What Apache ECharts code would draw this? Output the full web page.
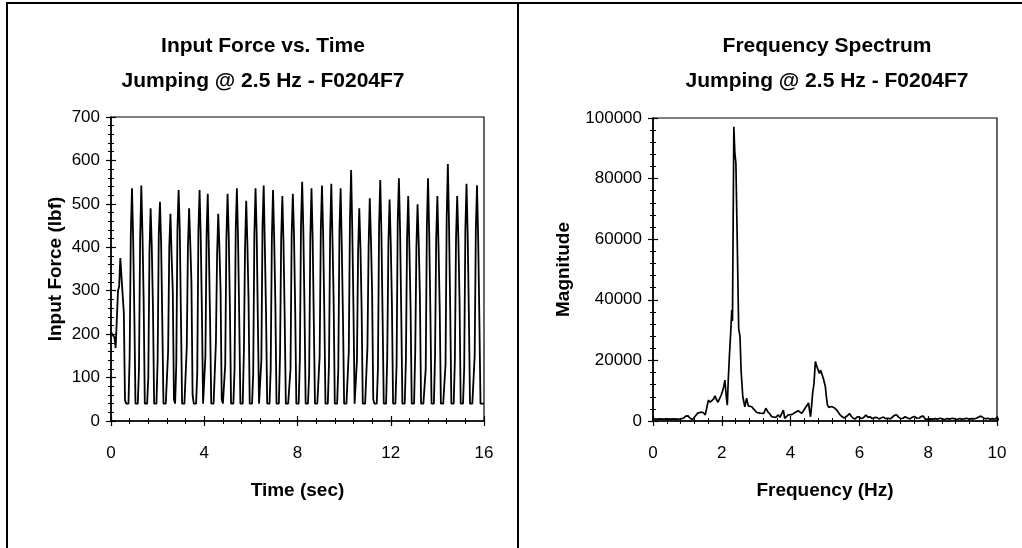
<!DOCTYPE html>
<html>
<head>
<meta charset="utf-8">
<script src="https://cdn.jsdelivr.net/npm/echarts@6/dist/echarts.min.js"></script>
<style>
  html, body { margin: 0; padding: 0; background: #fff; }
  #chart { width: 1022px; height: 548px; }
</style>
</head>
<body>
<div id="chart"></div>
<script>
// ---------- DATA ----------
const leftTitle = ['Input Force vs. Time', 'Jumping @ 2.5 Hz - F0204F7'];
const rightTitle = ['Frequency Spectrum', 'Jumping @ 2.5 Hz - F0204F7'];
const timeAxisName = 'Time (sec)';
const forceAxisName = 'Input Force (lbf)';
const freqAxisName = 'Frequency (Hz)';
const magAxisName = 'Magnitude';

// sampling interval of the force record (s)
const timeStepSec = 0.05;
// force samples, lbf (index i -> time i * timeStepSec), 0..16 s
const forceLbf = [
  205, 200, 197, 192, 168, 170, 300, 310, 375, 375,
  290, 250, 48, 40, 40, 40, 150, 430, 536, 420,
  250, 40, 40, 40, 120, 420, 542, 430, 280, 40,
  40, 40, 100, 390, 490, 400, 260, 40, 40, 40,
  140, 430, 505, 410, 230, 40, 40, 40, 40, 160,
  400, 477, 380, 300, 50, 40, 130, 440, 532, 440,
  240, 40, 40, 40, 40, 170, 400, 490, 410, 320,
  60, 40, 40, 40, 110, 440, 532, 420, 250, 40,
  40, 150, 430, 523, 390, 230, 40, 40, 40, 40,
  180, 380, 477, 400, 300, 50, 40, 40, 130, 420,
  523, 430, 260, 40, 40, 40, 120, 440, 536, 420,
  240, 40, 40, 40, 160, 400, 507, 410, 280, 40,
  40, 40, 110, 430, 536, 430, 230, 40, 40, 140,
  450, 542, 400, 250, 40, 40, 40, 120, 420, 532,
  420, 270, 40, 40, 40, 150, 420, 518, 410, 240,
  40, 40, 40, 40, 120, 430, 523, 430, 260, 40,
  40, 40, 140, 450, 551, 440, 260, 40, 40, 40,
  110, 420, 536, 420, 230, 40, 40, 40, 40, 150,
  440, 542, 430, 250, 40, 40, 40, 130, 430, 546,
  420, 280, 40, 40, 40, 120, 440, 536, 400, 240,
  40, 40, 40, 40, 160, 460, 578, 440, 260, 40,
  40, 140, 390, 490, 400, 260, 40, 40, 40, 40,
  170, 400, 513, 420, 300, 50, 40, 40, 40, 120,
  450, 555, 430, 240, 40, 40, 40, 150, 410, 510,
  410, 270, 40, 40, 40, 130, 460, 559, 440, 250,
  40, 40, 40, 140, 420, 518, 400, 260, 40, 40,
  40, 160, 400, 499, 410, 290, 40, 40, 40, 40,
  120, 450, 559, 430, 250, 40, 40, 40, 150, 420,
  518, 400, 260, 40, 40, 40, 40, 130, 470, 592,
  450, 260, 40, 40, 40, 140, 420, 518, 420, 280,
  40, 40, 40, 120, 440, 546, 430, 250, 40, 40,
  40, 40, 150, 440, 543, 420, 240, 40, 40, 40, 40
];

// spectrum vertices: frequency (Hz) and magnitude
const spectrumFreqHz = [
  0.00, 0.10, 0.20, 0.30, 0.40, 0.50, 0.60, 0.70, 0.80, 0.88,
  0.95, 1.02, 1.08, 1.15, 1.22, 1.30, 1.38, 1.46, 1.52, 1.57,
  1.61, 1.66, 1.70, 1.76, 1.80, 1.85, 1.89, 1.94, 1.98, 2.02,
  2.06, 2.09, 2.13, 2.16, 2.19, 2.22, 2.26, 2.29, 2.31, 2.33,
  2.35, 2.38, 2.41, 2.45, 2.49, 2.53, 2.56, 2.61, 2.67, 2.72,
  2.77, 2.82, 2.87, 2.92, 2.97, 3.02, 3.06, 3.11, 3.16, 3.22,
  3.28, 3.34, 3.40, 3.45, 3.50, 3.57, 3.64, 3.69, 3.74, 3.79,
  3.83, 3.88, 3.93, 3.98, 4.03, 4.08, 4.13, 4.18, 4.22, 4.27,
  4.32, 4.37, 4.42, 4.47, 4.52, 4.55, 4.58, 4.61, 4.64, 4.68,
  4.72, 4.75, 4.78, 4.81, 4.84, 4.87, 4.90, 4.95, 5.01, 5.04,
  5.07, 5.11, 5.15, 5.19, 5.22, 5.28, 5.34, 5.39, 5.44, 5.50,
  5.56, 5.61, 5.66, 5.71, 5.76, 5.82, 5.88, 5.94, 6.00, 6.06,
  6.12, 6.19, 6.25, 6.31, 6.37, 6.44, 6.50, 6.57, 6.63, 6.70,
  6.76, 6.83, 6.90, 6.96, 7.02, 7.08, 7.14, 7.20, 7.27, 7.33,
  7.40, 7.47, 7.53, 7.60, 7.67, 7.74, 7.80, 7.86, 7.92, 7.98,
  8.05, 8.12, 8.20, 8.27, 8.34, 8.41, 8.48, 8.55, 8.62, 8.70,
  8.77, 8.84, 8.91, 8.98, 9.05, 9.12, 9.19, 9.26, 9.33, 9.40,
  9.47, 9.53, 9.59, 9.66, 9.73, 9.80, 9.87, 9.93, 10.00, 10.05,
  10.12, 10.18, 10.25, 10.30
];
const spectrumMagnitude = [
  700, 600, 700, 600, 700, 600, 700, 600, 700, 900,
  1600, 1700, 900, 500, 1500, 2600, 2900, 2800, 2000, 2500,
  6900, 6200, 5900, 7200, 8300, 7000, 6200, 6000, 8500, 9800,
  11500, 13500, 8000, 5200, 14000, 21200, 29500, 36600, 33000, 33500,
  97100, 88300, 85000, 58600, 30600, 27800, 16800, 8000, 4700, 7500,
  5000, 4600, 4700, 4000, 3600, 2800, 2500, 2600, 2300, 2500,
  4200, 3000, 2300, 1400, 900, 1200, 2000, 1200, 900, 3600,
  900, 1500, 2000, 1700, 2100, 2300, 2800, 3200, 3400, 2800,
  2500, 3300, 4200, 5000, 6000, 3500, 1400, 5000, 9100, 12400,
  19600, 18500, 17900, 16500, 15700, 16800, 16300, 14100, 11300, 8000,
  5300, 4500, 4200, 4800, 5000, 4300, 3600, 2800, 2000, 1400,
  1000, 900, 1800, 2500, 1600, 900, 700, 1400, 1300, 800,
  1100, 2000, 1200, 1400, 800, 1100, 1200, 700, 1000, 1300,
  800, 900, 700, 1300, 1900, 2000, 1300, 800, 900, 1400,
  1000, 700, 1200, 1500, 900, 1000, 1500, 1600, 500, 600,
  700, 600, 800, 600, 900, 700, 500, 800, 600, 900,
  700, 500, 800, 600, 700, 900, 600, 800, 700, 900,
  1300, 1600, 1200, 700, 900, 600, 800, 500, 1200, 400,
  300, 900, 1300, 500
];

// axis ranges / tick steps
const timeRange = [0, 16], timeStep = 4;
const forceRange = [0, 700], forceStep = 100;
const freqRange = [0, 10], freqStep = 2;
const magRange = [0, 100000], magStep = 20000;

// ---------- CHART ----------
const FONT = "'Liberation Sans', Arial, Helvetica, sans-serif";
const timeSeriesData = forceLbf.map((v, i) => [Number((i * timeStepSec).toFixed(2)), v]);
const spectrumData = spectrumFreqHz.map((f, i) => [f, spectrumMagnitude[i]]);

const labelStyle = { color: '#000', fontFamily: FONT, fontSize: 17 };
const nameStyle = { color: '#000', fontFamily: FONT, fontSize: 19, fontWeight: 'bold' };

function axisPair(dim, gridIndex, range, step, name, nameGap) {
  const base = {
    type: 'value', gridIndex, min: range[0], max: range[1], interval: step,
    position: dim === 'x' ? 'bottom' : 'left',
    splitLine: { show: false }
  };
  const outer = Object.assign({}, base, {
    name, nameLocation: 'middle', nameGap, nameTextStyle: nameStyle,
    axisLine: { show: true, onZero: false, lineStyle: { color: '#000', width: 1.6 } },
    axisTick: { show: true, inside: false, length: 5, lineStyle: { color: '#000', width: 1.2 } },
    minorTick: { show: true, splitNumber: 5, length: 3, lineStyle: { color: '#000', width: 1 } },
    axisLabel: Object.assign({ margin: dim === 'x' ? 24 : 11, formatter: v => String(v) }, labelStyle)
  });
  const inner = Object.assign({}, base, {
    axisLine: { show: false, onZero: false },
    axisTick: { show: true, inside: true, length: 5, lineStyle: { color: '#000', width: 1.2 } },
    minorTick: { show: true, splitNumber: 5, length: 3, lineStyle: { color: '#000', width: 1 } },
    axisLabel: { show: false }
  });
  return [outer, inner];
}

const xLeft = axisPair('x', 0, timeRange, timeStep, timeAxisName, 60);
const yLeft = axisPair('y', 0, forceRange, forceStep, forceAxisName, 46);
const xRight = axisPair('x', 1, freqRange, freqStep, freqAxisName, 60);
const yRight = axisPair('y', 1, magRange, magStep, magAxisName, 80);

const titleStyle = { color: '#000', fontFamily: FONT, fontSize: 21, fontWeight: 'bold', lineHeight: 35 };

const option = {
  backgroundColor: '#fff',
  animation: false,
  title: [
    { text: leftTitle.join('\n'), left: 263, top: 29, textAlign: 'center', padding: 0, textStyle: titleStyle },
    { text: rightTitle.join('\n'), left: 827, top: 29, textAlign: 'center', padding: 0, textStyle: titleStyle }
  ],
  graphic: [
    { type: 'rect', z: -10, shape: { x: 7, y: 3, width: 511, height: 620 }, style: { fill: null, stroke: '#000', lineWidth: 2 } },
    { type: 'rect', z: -10, shape: { x: 518, y: 3, width: 620, height: 620 }, style: { fill: null, stroke: '#000', lineWidth: 2 } }
  ],
  grid: [
    { left: 111, top: 117, width: 373, height: 304, show: true, borderColor: '#000', borderWidth: 1.2, backgroundColor: 'transparent' },
    { left: 653, top: 118, width: 344, height: 303, show: true, borderColor: '#000', borderWidth: 1.2, backgroundColor: 'transparent' }
  ],
  xAxis: [xLeft[0], xLeft[1], xRight[0], xRight[1]],
  yAxis: [yLeft[0], yLeft[1], yRight[0], yRight[1]],
  series: [
    {
      type: 'line', xAxisIndex: 0, yAxisIndex: 0, data: timeSeriesData,
      showSymbol: false, symbol: 'none', smooth: false,
      lineStyle: { color: '#000', width: 1.8 }
    },
    {
      type: 'line', xAxisIndex: 2, yAxisIndex: 2, data: spectrumData,
      showSymbol: false, symbol: 'none', smooth: false, clip: false,
      lineStyle: { color: '#000', width: 1.7 }
    }
  ]
};

const chart = echarts.init(document.getElementById('chart'), null, { renderer: 'canvas' });
chart.setOption(option);
</script>
</body>
</html>
